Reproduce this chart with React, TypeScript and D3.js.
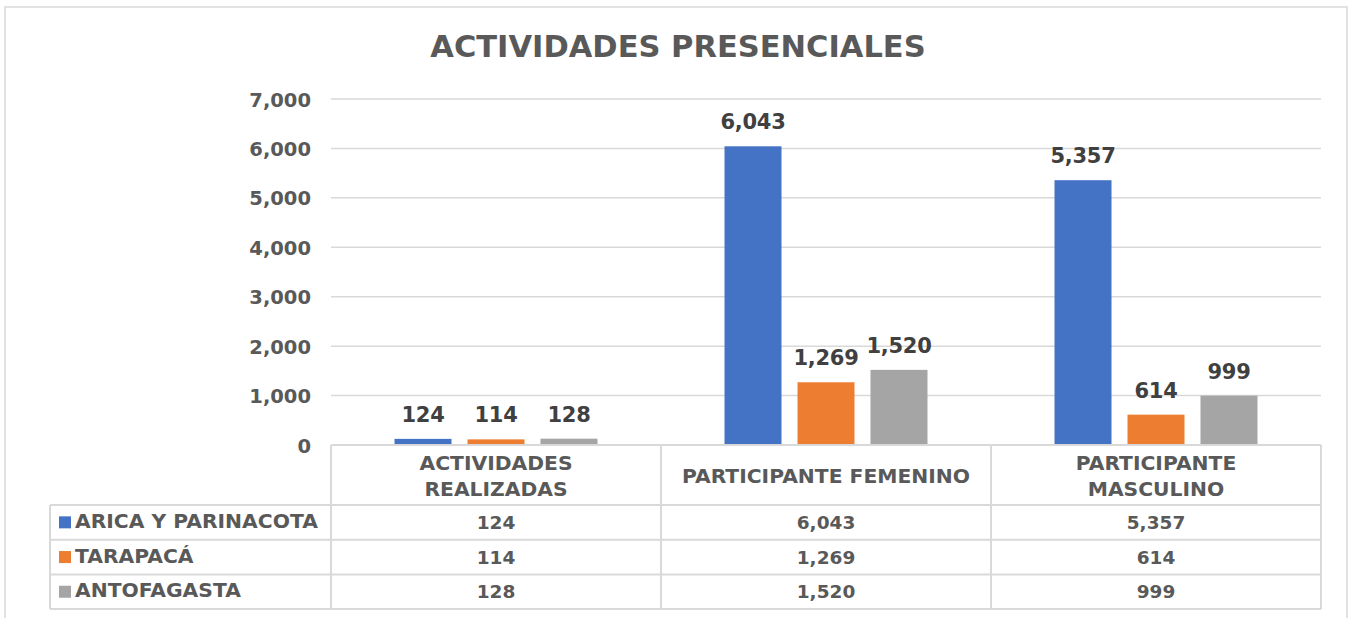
import React from "react";
import * as d3 from "d3";

const categories = ["ACTIVIDADES REALIZADAS", "PARTICIPANTE FEMENINO", "PARTICIPANTE MASCULINO"];
const categoryLines = [["ACTIVIDADES", "REALIZADAS"], ["PARTICIPANTE FEMENINO"], ["PARTICIPANTE", "MASCULINO"]];
const seriesNames = ["ARICA Y PARINACOTA", "TARAPACÁ", "ANTOFAGASTA"];
const seriesColors = ["#4472C4", "#ED7D31", "#A5A5A5"];
const aricaValues = [124, 6043, 5357];
const tarapacaValues = [114, 1269, 614];
const antofagastaValues = [128, 1520, 999];
const yTicks = [0, 1000, 2000, 3000, 4000, 5000, 6000, 7000];

const seriesValues = [aricaValues, tarapacaValues, antofagastaValues];

const W = 1351;
const H = 618;
const FONT = "'DejaVu Sans', 'Open Sans', sans-serif";
const TEXT = "#595959";
const GRID = "#d9d9d9";

export default function App() {
  const left = 331;
  const right = 1321;
  const top = 99;
  const bottom = 445;
  const x0 = d3.scaleBand<string>().domain(categories).range([left, right]).paddingInner(0).paddingOuter(0);
  const x1 = d3.scaleBand<string>().domain(seriesNames).range([0, x0.bandwidth()]).paddingInner(16 / 73).paddingOuter(0.87);
  const y = d3.scaleLinear().domain([0, 7000]).range([bottom, top]);
  const fmt = d3.format(",");

  const headerBottom = 505;
  const rowH = 34.7;
  const tableLeft = 50;

  return (
    <svg width={W} height={H} style={{ position: "absolute", left: 0, top: 0 }}>
      <rect x={0} y={0} width={W} height={H} fill="#fff" />
      <rect x={5} y={7} width={1342} height={H + 10} fill="none" stroke={GRID} strokeWidth={1.5} />
      <text x={678} y={57} textAnchor="middle" fontFamily={FONT} fontWeight={700} fontSize={30.5} fill={TEXT}>
        ACTIVIDADES PRESENCIALES
      </text>
      {yTicks.map((t) => (
        <g key={t}>
          {t > 0 && <line x1={left} x2={right} y1={y(t)} y2={y(t)} stroke={GRID} strokeWidth={1.5} />}
          <text x={311} y={y(t) + 7.5} textAnchor="end" fontFamily={FONT} fontWeight={700} fontSize={19.5} fill={TEXT}>
            {fmt(t)}
          </text>
        </g>
      ))}
      {categories.map((c, ci) => (
        <g key={c}>
          {seriesNames.map((s, si) => {
            const v = seriesValues[si][ci];
            const bx = (x0(c) as number) + (x1(s) as number);
            return (
              <g key={s}>
                <rect x={bx} y={y(v)} width={x1.bandwidth()} height={bottom - y(v)} fill={seriesColors[si]} />
                <text x={bx + x1.bandwidth() / 2} y={y(v) - 17} textAnchor="middle" fontFamily={FONT} fontWeight={700} fontSize={21} letterSpacing={-0.3} fill="#404040">
                  {fmt(v)}
                </text>
              </g>
            );
          })}
        </g>
      ))}
      {/* data table */}
      <g stroke={GRID} strokeWidth={2} fill="none">
        <line x1={left} x2={right} y1={bottom} y2={bottom} />
        {[left, ...categories.map((c) => (x0(c) as number) + x0.bandwidth())].map((xx, i) => (
          <line key={"v" + i} x1={xx} x2={xx} y1={bottom} y2={headerBottom + rowH * 3} />
        ))}
        <line x1={tableLeft} x2={tableLeft} y1={headerBottom} y2={headerBottom + rowH * 3} />
        {[0, 1, 2, 3].map((r) => (
          <line key={"h" + r} x1={tableLeft} x2={right} y1={headerBottom + r * rowH} y2={headerBottom + r * rowH} />
        ))}
      </g>
      {categories.map((c, ci) => {
        const cx = (x0(c) as number) + x0.bandwidth() / 2;
        const lines = categoryLines[ci];
        const base = 482.5;
        return (
          <text key={c} textAnchor="middle" fontFamily={FONT} fontWeight={700} fontSize={20.3} fill={TEXT}>
            {lines.map((l, li) => (
              <tspan key={li} x={cx} y={base + (li - (lines.length - 1) / 2) * 26}>
                {l}
              </tspan>
            ))}
          </text>
        );
      })}
      {seriesNames.map((s, si) => {
        const cy = headerBottom + rowH * si + rowH / 2;
        return (
          <g key={s}>
            <rect x={59} y={cy - 6} width={12} height={12} fill={seriesColors[si]} />
            <text x={75} y={cy + 5.5} fontFamily={FONT} fontWeight={700} fontSize={20.3} fill={TEXT}>
              {s}
            </text>
            {categories.map((c, ci) => (
              <text key={c} x={(x0(c) as number) + x0.bandwidth() / 2} y={cy + 6.5} textAnchor="middle" fontFamily={FONT} fontWeight={700} fontSize={18.5} fill={TEXT}>
                {fmt(seriesValues[si][ci])}
              </text>
            ))}
          </g>
        );
      })}
    </svg>
  );
}
